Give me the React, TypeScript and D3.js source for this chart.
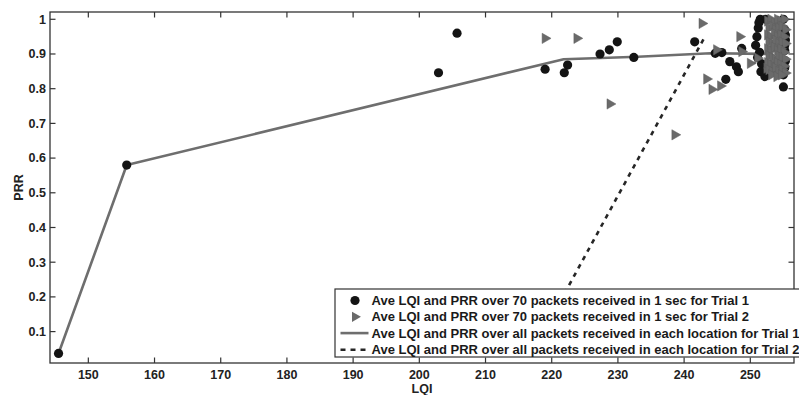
import React from "react";
import * as d3 from "d3";

const W = 799;
const H = 395;

// Trial 1: Ave LQI / PRR over 70 packets (circles)
const trial1X = [145.5, 155.8, 202.9, 205.7, 219.0, 221.9, 222.4, 227.3, 228.7, 229.9, 232.4, 241.6, 244.7, 245.7, 246.9, 247.9, 248.2, 246.3, 248.7,
  251.5, 252.3, 251.2, 251.0, 250.8, 251.4, 251.7, 251.6, 252.2, 251.3, 251.1,
  255.0, 255.2, 255.3, 255.2, 255.3, 255.2, 255.0, 255.0, 255.3, 255.2];
const trial1Y = [0.037, 0.58, 0.846, 0.96, 0.856, 0.846, 0.868, 0.90, 0.912, 0.935, 0.89, 0.935, 0.902, 0.904, 0.878, 0.863, 0.849, 0.827, 0.916,
  1.0, 1.0, 0.975, 0.95, 0.925, 0.905, 0.872, 0.849, 0.835, 0.99, 0.89,
  1.0, 0.97, 0.94, 0.91, 0.88, 0.86, 0.84, 0.805, 0.955, 0.925];

// Trial 2: Ave LQI / PRR over 70 packets (triangles)
const trial2X = [219.0, 223.8, 228.8, 238.6, 242.7, 243.4, 244.2, 245.5, 244.9, 248.4, 248.7, 250.0, 252.5, 251.1, 253.0,
  252.6, 253.1, 253.6, 254.1, 254.6, 255.1,
  252.8, 253.3, 253.8, 254.3, 254.8, 255.3,
  252.6, 253.1, 253.6, 254.1, 254.6, 255.1,
  252.8, 253.3, 253.8, 254.3, 254.8, 255.3,
  252.6, 253.1, 253.6, 254.1, 254.6, 255.1,
  252.8, 253.3, 253.8, 254.3, 254.8, 255.3,
  252.6, 253.1, 253.6, 254.1, 254.6, 255.1,
  252.8, 253.3, 253.8, 254.3, 254.8, 255.3,
  253.2, 254.0, 254.7];
const trial2Y = [0.945, 0.945, 0.756, 0.667, 0.988, 0.828, 0.798, 0.808, 0.912, 0.95, 0.907, 0.873, 0.859, 0.888, 0.863,
  0.995, 1.0, 0.99, 1.0, 0.995, 1.0,
  0.975, 0.98, 0.97, 0.975, 0.98, 0.97,
  0.955, 0.95, 0.96, 0.95, 0.955, 0.95,
  0.935, 0.93, 0.94, 0.93, 0.935, 0.93,
  0.915, 0.91, 0.92, 0.91, 0.915, 0.905,
  0.895, 0.89, 0.885, 0.895, 0.89, 0.885,
  0.875, 0.87, 0.865, 0.875, 0.87, 0.865,
  0.855, 0.85, 0.86, 0.85, 0.855, 0.845,
  0.84, 0.835, 0.84];

// Averages over all packets per location
const avg1X = [145.5, 155.8, 221.8, 233.0, 244.0, 253.5];
const avg1Y = [0.037, 0.58, 0.885, 0.892, 0.902, 0.9];
const avg2X = [218.5, 243.2];
const avg2Y = [0.09, 0.952];

const xTicks = [150, 160, 170, 180, 190, 200, 210, 220, 230, 240, 250];
const yTicks = [0.1, 0.2, 0.3, 0.4, 0.5, 0.6, 0.7, 0.8, 0.9, 1];

const legendLabels = [
  "Ave LQI and PRR over 70 packets received in 1 sec for Trial 1",
  "Ave LQI and PRR over 70 packets received in 1 sec for Trial 2",
  "Ave LQI and PRR over all packets received in each location for Trial 1",
  "Ave LQI and PRR over all packets received in each location for Trial 2",
];

export default function App() {
  const left = 50, right = 794, top = 12, bottom = 363;
  const x = d3.scaleLinear().domain([144.21, 256.6]).range([left, right]);
  const y = d3.scaleLinear().domain([0.0095, 1.021]).range([bottom, top]);
  const font = "'Liberation Sans', Arial, sans-serif";
  const axisColor = "#333";
  const tickLen = 5.5;

  const line = d3.line<[number, number]>().x((d) => x(d[0])).y((d) => y(d[1]));
  const avg1 = avg1X.map((v, i) => [v, avg1Y[i]] as [number, number]);
  const avg2 = avg2X.map((v, i) => [v, avg2Y[i]] as [number, number]);
  const tri = d3.symbol().type(d3.symbolTriangle).size(46)() as string;
  const lineGray = "#6e6e6e";
  const triGray = "#6a6a6a";

  const legX = 335, legY = 289;
  const rowY = [300.5, 316.8, 333.1, 349.7];

  return (
    <div style={{ position: "fixed", left: 0, top: 0, width: W, height: H, background: "#fff" }}>
      <svg width={W} height={H} style={{ display: "block", overflow: "hidden" }} fontFamily={font}>
        <rect x={0} y={0} width={W} height={H} fill="#fff" />
        <defs>
          <clipPath id="plotclip">
            <rect x={left} y={top} width={right - left} height={bottom - top} />
          </clipPath>
        </defs>
        <g clipPath="url(#plotclip)">
          <path d={line(avg1) || ""} fill="none" stroke={lineGray} strokeWidth={2.6} strokeLinejoin="round" />
          <path d={line(avg2) || ""} fill="none" stroke="#262626" strokeWidth={2.6} strokeDasharray="4.5,5" />
          {trial1X.map((v, i) => (
            <circle key={"c" + i} cx={x(v)} cy={y(trial1Y[i])} r={4.6} fill="#141414" />
          ))}
          {trial2X.map((v, i) => (
            <path key={"t" + i} d={tri} transform={`translate(${x(v)},${y(trial2Y[i])}) rotate(90)`} fill={triGray} stroke="#5e5e5e" strokeWidth={0.5} />
          ))}
        </g>
        {/* axes box */}
        <rect x={left} y={top} width={right - left} height={bottom - top} fill="none" stroke={axisColor} strokeWidth={1.3} />
        {xTicks.map((t) => (
          <g key={"xt" + t}>
            <line x1={x(t)} x2={x(t)} y1={bottom} y2={bottom - tickLen} stroke={axisColor} strokeWidth={1.2} />
            <line x1={x(t)} x2={x(t)} y1={top} y2={top + tickLen} stroke={axisColor} strokeWidth={1.2} />
            <text x={x(t)} y={378.5} textAnchor="middle" fontSize={12.5} fontWeight="bold" fill="#222">{t}</text>
          </g>
        ))}
        {yTicks.map((t) => (
          <g key={"yt" + t}>
            <line x1={left} x2={left + tickLen} y1={y(t)} y2={y(t)} stroke={axisColor} strokeWidth={1.2} />
            <line x1={right} x2={right - tickLen} y1={y(t)} y2={y(t)} stroke={axisColor} strokeWidth={1.2} />
            <text x={46} y={y(t) + 4.4} textAnchor="end" fontSize={12.5} fontWeight="bold" fill="#222">{t}</text>
          </g>
        ))}
        <text x={(left + right) / 2} y={393} textAnchor="middle" fontSize={12.5} fontWeight="bold" fill="#222">LQI</text>
        <text transform={`translate(23,${(top + bottom) / 2}) rotate(-90)`} textAnchor="middle" fontSize={12.5} fontWeight="bold" fill="#222">PRR</text>

        {/* legend */}
        <rect x={legX} y={legY} width={W - legX + 10} height={68} fill="#fff" stroke={axisColor} strokeWidth={1.2} />
        <circle cx={355} cy={rowY[0]} r={4.6} fill="#141414" />
        <path d={tri} transform={`translate(355,${rowY[1]}) rotate(90)`} fill={triGray} />
        <line x1={340.5} x2={368.5} y1={rowY[2]} y2={rowY[2]} stroke={lineGray} strokeWidth={2.6} />
        <line x1={340.5} x2={368.5} y1={rowY[3]} y2={rowY[3]} stroke="#262626" strokeWidth={2.4} strokeDasharray="5,5" />
        {legendLabels.map((l, i) => (
          <text key={"l" + i} x={371.5} y={rowY[i] + 4.6} fontSize={13} fontWeight="bold" fill="#1a1a1a">{l}</text>
        ))}
      </svg>
    </div>
  );
}
